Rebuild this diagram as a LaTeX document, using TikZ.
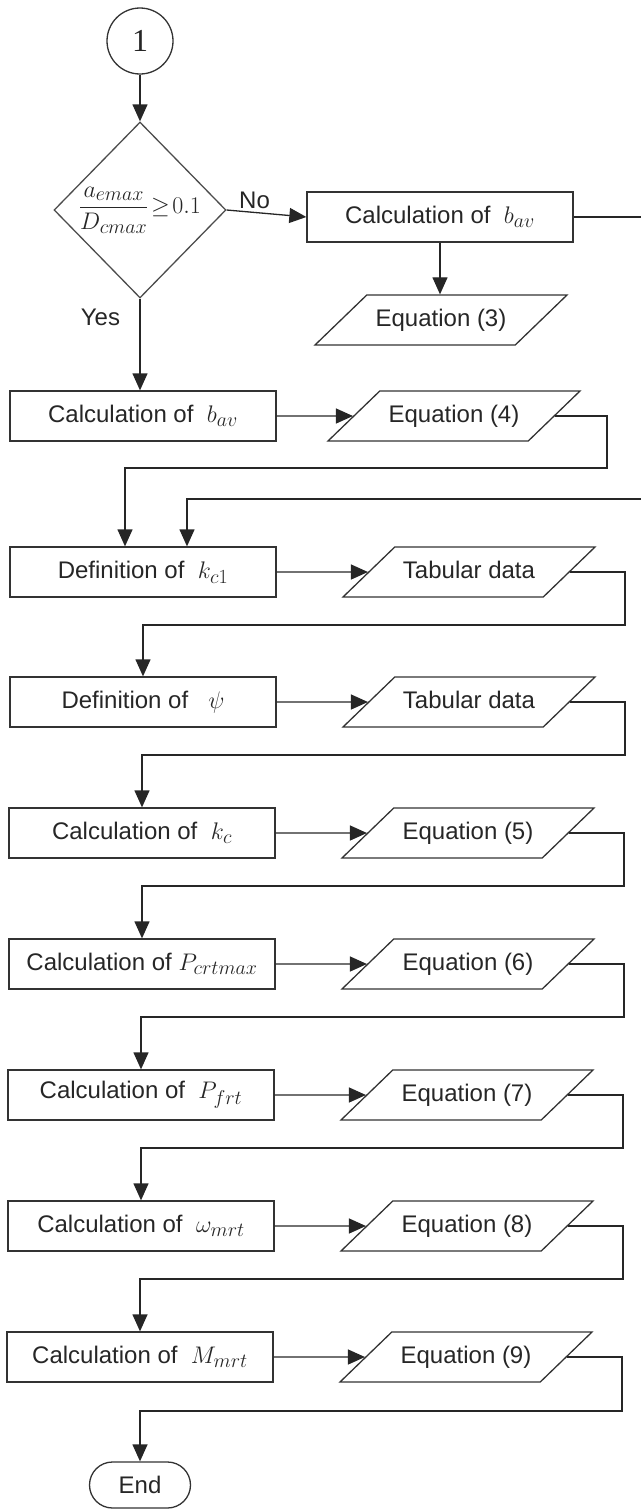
\documentclass[tikz,border=0pt]{standalone}
\usepackage{fix-cm}
\usepackage{fontspec}
\setmainfont{Liberation Sans}
\newfontfamily\serifnum{Liberation Serif}
\DeclareMathSizes{24}{24}{20}{16}
\usetikzlibrary{shapes.geometric,arrows.meta}

\tikzset{
  block/.style={draw=black!80, line width=1.3pt, rectangle, minimum width=266pt, minimum height=50pt, inner sep=0pt},
  io/.style={draw=black!80, line width=1.3pt, trapezium, trapezium left angle=44, trapezium right angle=136,
    trapezium stretches body, text height=17pt, text depth=5pt, inner xsep=4pt, inner ysep=14pt,
    minimum width=252pt, minimum height=50pt},
  decision/.style={draw=black!70, line width=1.3pt, diamond, minimum width=172pt, minimum height=176pt, inner sep=0pt},
  terminal/.style={draw=black!80, line width=1.3pt, rectangle, rounded corners=23pt, minimum width=101pt, minimum height=46pt},
  connector/.style={draw=black!80, line width=1.3pt, circle, minimum size=66pt, inner sep=0pt,
    font=\serifnum\fontsize{32}{36}\selectfont},
  arr/.style={draw=black!85, line width=1.3pt, -{Triangle[length=17pt,width=15pt]}}
}

\begin{document}
\begin{tikzpicture}[x=1pt, y=-1pt, font=\fontsize{24}{28}\selectfont, text=black!85]
	\useasboundingbox (0,0) rectangle (640,1510);
	% Start und Abfrage
	\node[connector] (start) at (140,41) {1};
	\node[decision] (dec) at (140,210) {\makebox[0pt]{$\displaystyle\frac{a_{emax}}{D_{cmax}}\!\geq\! 0.1$}};
	% Zweig No
	\node[block] (calcA) at (440,217) {Calculation of\ \ $b_{av}$};
	\node[io] (eqA) at (441,320) {Equation (3)};
	% Zweig Yes
	\node[block] (calcB) at (143,416) {Calculation of\ \ $b_{av}$};
	\node[io] (eqB) at (454,416) {Equation (4)};
	% Hauptkette links
	\node[block] (defKc) at (143,572) {Definition of\ \ $k_{c1}$};
	\node[block] (defPsi) at (143,702) {Definition of\ \ \ $\psi$};
	\node[block] (calcKc) at (142,833) {Calculation of\ \ $k_c$};
	\node[block] (calcPc) at (142,964) {Calculation of\ $P_{crtmax}$};
	\node[block] (calcPf) at (141,1095) {Calculation of\ \ $P_{frt}$};
	\node[block] (calcW) at (141,1226) {Calculation of\ \ $\omega_{mrt}$};
	\node[block] (calcM) at (140,1357) {Calculation of\ \ $M_{mrt}$};
	\node[terminal] (end) at (140,1485) {End};
	% Daten rechts
	\node[io] (tabKc) at (469,572) {Tabular data};
	\node[io] (tabPsi) at (469,702) {Tabular data};
	\node[io] (eqKc) at (468,833) {Equation (5)};
	\node[io] (eqPc) at (468,964) {Equation (6)};
	\node[io] (eqPf) at (467,1095) {Equation (7)};
	\node[io] (eqW) at (467,1226) {Equation (8)};
	\node[io] (eqM) at (466,1357) {Equation (9)};
	\coordinate (rim) at (642,499);
	% Pfeile
	\draw[arr] (start) -- (dec);
	\draw[arr] (dec.east) -- node[above, pos=0.35] {No} (calcA.west);
	\draw[arr] (calcA) -- (calcA.south |- eqA.north);
	\draw[arr] (dec.south) -- node[left=16pt, pos=0.2] {Yes} (dec.south |- calcB.north);
	\draw[arr] (calcB) -- (eqB);
	\draw[arr] (eqB.east) -- ++(52,0) -- ++(0,52) -| ([xshift=-18pt]defKc.north);
	\draw[arr] (calcA.east) -| (rim) -| ([xshift=44pt]defKc.north);
	\draw[arr] (defKc) -- (tabKc);
	\draw[arr] (tabKc.east) -- ++(55,0) -- ++(0,53) -| (defPsi.north);
	\draw[arr] (defPsi) -- (tabPsi);
	\draw[arr] (tabPsi.east) -- ++(55,0) -- ++(0,53) -| (calcKc.north);
	\draw[arr] (calcKc) -- (eqKc);
	\draw[arr] (eqKc.east) -- ++(55,0) -- ++(0,53) -| (calcPc.north);
	\draw[arr] (calcPc) -- (eqPc);
	\draw[arr] (eqPc.east) -- ++(55,0) -- ++(0,53) -| (calcPf.north);
	\draw[arr] (calcPf) -- (eqPf);
	\draw[arr] (eqPf.east) -- ++(55,0) -- ++(0,53) -| (calcW.north);
	\draw[arr] (calcW) -- (eqW);
	\draw[arr] (eqW.east) -- ++(55,0) -- ++(0,53) -| (calcM.north);
	\draw[arr] (calcM) -- (eqM);
	\draw[arr] (eqM.east) -- ++(55,0) -- ++(0,54) -| (end.north);
\end{tikzpicture}
\end{document}
